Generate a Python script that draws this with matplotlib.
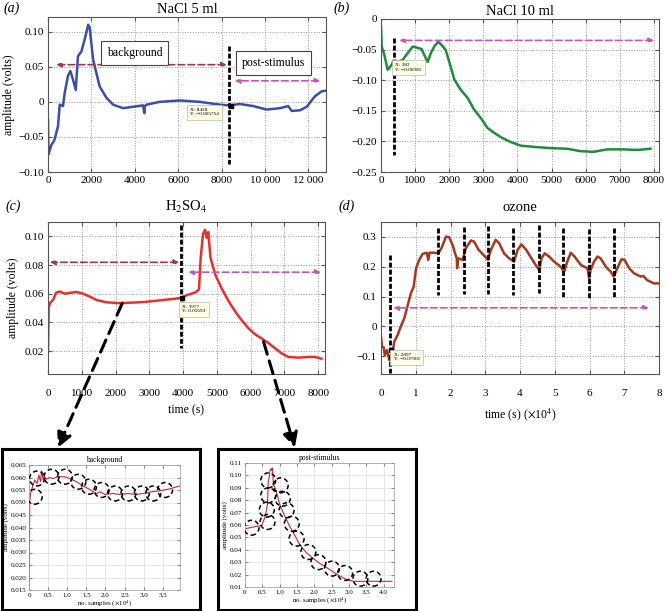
import matplotlib
matplotlib.use("agg")
import matplotlib.pyplot as plt
from matplotlib.patches import ConnectionPatch

plt.rcParams['font.family'] = ['Liberation Serif', 'DejaVu Serif']
plt.rcParams['mathtext.fontset'] = 'stix'

# (a) NaCl 5 ml
nacl5_t = [0, 20, 150, 300, 460, 540, 690, 770, 920, 1030, 1150, 1280, 1380, 1540, 1690,
           1850, 1920, 2080, 2230, 2380, 2690, 3000, 3460, 3920, 4380, 4440, 4460, 4540,
           5150, 6080, 7000, 7920, 8380, 8840, 9460, 10070, 10690, 11070, 11230, 11610,
           11920, 12300, 12610, 12810]
nacl5_v = [-0.025, -0.075, -0.062, -0.054, -0.035, -0.004, -0.006, 0.013, 0.037, 0.044,
           0.032, 0.017, 0.065, 0.072, 0.089, 0.110, 0.106, 0.060, 0.041, 0.022, 0.006,
           -0.004, -0.009, -0.007, -0.005, -0.016, -0.006, -0.004, 0.0, 0.002, 0.0, -0.004,
           -0.005, -0.003, -0.006, -0.011, -0.009, -0.006, -0.013, -0.012, -0.007, 0.008,
           0.015, 0.016]

# (b) NaCl 10 ml
nacl10_t = [0, 20, 100, 195, 240, 310, 370, 490, 630, 780, 930, 1070, 1190, 1270, 1370,
            1460, 1560, 1680, 1800, 1900, 2000, 2150, 2340, 2540, 2730, 2930, 3120, 3320,
            3510, 3800, 4100, 4490, 4980, 5460, 5850, 6240, 6630, 7120, 7510, 7900]
nacl10_v = [-0.012, -0.045, -0.059, -0.083, -0.080, -0.075, -0.070, -0.070, -0.067,
            -0.056, -0.045, -0.047, -0.049, -0.059, -0.070, -0.056, -0.045, -0.037, -0.044,
            -0.051, -0.070, -0.099, -0.116, -0.129, -0.148, -0.162, -0.178, -0.186, -0.193,
            -0.201, -0.207, -0.209, -0.211, -0.212, -0.216, -0.217, -0.213, -0.213, -0.214,
            -0.212]

# (c) H2SO4
h2so4_t = [0, 20, 60, 160, 235, 350, 500, 650, 840, 1040, 1235, 1430, 1725, 2120, 2510,
           2900, 3290, 3685, 3930, 4080, 4370, 4470, 4520, 4590, 4650, 4695, 4745, 4810,
           4960, 5155, 5350, 5550, 5740, 5940, 6135, 6330, 6525, 6720, 6920, 7115, 7410,
           7700, 7900, 8095]
h2so4_v = [0.0195, 0.050, 0.0535, 0.056, 0.0606, 0.0615, 0.060, 0.0606, 0.0612, 0.060,
           0.058, 0.0557, 0.054, 0.0534, 0.0538, 0.0543, 0.0553, 0.0563, 0.057, 0.0587,
           0.061, 0.063, 0.085, 0.1017, 0.1046, 0.099, 0.103, 0.085, 0.0727, 0.063, 0.0546,
           0.0473, 0.0413, 0.0357, 0.0316, 0.0287, 0.0256, 0.022, 0.0183, 0.0159, 0.0154,
           0.0159, 0.0159, 0.0147]

# (d) ozone, time in 1e4 s
ozone_t = [0, 0.03, 0.08, 0.11, 0.17, 0.24, 0.31, 0.38, 0.48, 0.57, 0.67, 0.77, 0.86, 0.94,
           1.01, 1.10, 1.20, 1.32, 1.36, 1.40, 1.53, 1.65, 1.74, 1.87, 1.96, 2.06, 2.13,
           2.18, 2.19, 2.22, 2.35, 2.44, 2.59, 2.68, 2.80, 2.92, 3.08, 3.16, 3.30, 3.40,
           3.54, 3.69, 3.83, 3.93, 4.04, 4.17, 4.33, 4.45, 4.55, 4.62, 4.71, 4.84, 4.98,
           5.17, 5.27, 5.36, 5.46, 5.57, 5.75, 5.94, 5.99, 6.03, 6.13, 6.23, 6.32, 6.47,
           6.61, 6.70, 6.80, 6.92, 7.01, 7.14, 7.28, 7.47, 7.55, 7.66, 7.85, 8.0]
ozone_v = [-0.035, -0.069, -0.071, -0.097, -0.080, -0.113, -0.108, -0.052, -0.029, 0.0,
           0.027, 0.071, 0.111, 0.133, 0.195, 0.223, 0.243, 0.247, 0.223, 0.247, 0.247,
           0.245, 0.262, 0.301, 0.299, 0.273, 0.245, 0.228, 0.195, 0.228, 0.223, 0.262,
           0.288, 0.284, 0.258, 0.243, 0.223, 0.256, 0.290, 0.279, 0.245, 0.228, 0.217,
           0.256, 0.275, 0.258, 0.228, 0.206, 0.189, 0.228, 0.245, 0.234, 0.217, 0.200,
           0.183, 0.217, 0.247, 0.234, 0.206, 0.195, 0.161, 0.189, 0.217, 0.234, 0.228,
           0.200, 0.183, 0.167, 0.195, 0.225, 0.223, 0.195, 0.178, 0.167, 0.169, 0.155,
           0.144, 0.144]
ozone_marks = [0.27, 1.65, 2.39, 3.07, 3.80, 4.55, 5.25, 5.99, 6.70]
ozone_marks_top = [0.24, 0.33, 0.332, 0.337, 0.33, 0.34, 0.33, 0.326, 0.33]
ozone_marks_bot = [-0.156, 0.105, 0.108, 0.108, 0.105, 0.113, 0.10, 0.094, 0.10]

# insets (x in 1e4 samples)
bg_x = [0, 0.02, 0.04, 0.09, 0.15, 0.21, 0.26, 0.30, 0.33, 0.37, 0.41, 0.45, 0.54, 0.63,
        0.76, 0.94, 1.07, 1.24, 1.42, 1.59, 1.77, 1.85, 1.99, 2.20, 2.38, 2.60, 2.77,
        2.99, 3.21, 3.43, 3.69, 3.94]
bg_y = [0.016, 0.0503, 0.0536, 0.0563, 0.059, 0.0576, 0.061, 0.0583, 0.0627, 0.059,
        0.0603, 0.0593, 0.060, 0.0596, 0.0603, 0.0603, 0.0596, 0.0583, 0.0566, 0.0552,
        0.0536, 0.0543, 0.0532, 0.0536, 0.0532, 0.0536, 0.0532, 0.0536, 0.0543, 0.0547,
        0.0555, 0.0566]
bg_cx = [0.15, 0.21, 0.59, 0.94, 1.29, 1.57, 1.90, 2.25, 2.60, 2.95, 3.25, 3.56]
bg_cy = [0.0523, 0.0596, 0.0603, 0.0603, 0.0583, 0.0563, 0.055, 0.0536, 0.0536, 0.0536,
         0.0536, 0.055]

ps_x = [0, 0.14, 0.34, 0.48, 0.58, 0.65, 0.67, 0.70, 0.72, 0.75, 0.77, 0.79, 0.82, 0.92,
        1.01, 1.16, 1.30, 1.45, 1.59, 1.78, 1.98, 2.17, 2.36, 2.55, 2.75, 2.94, 3.13,
        3.42, 3.71, 4.0, 4.24]
ps_y = [0.057, 0.0578, 0.0589, 0.0595, 0.0665, 0.0772, 0.0947, 0.0987, 0.104, 0.1054,
        0.104, 0.106, 0.0933, 0.0853, 0.0759, 0.0665, 0.0584, 0.0509, 0.0436, 0.0374,
        0.0328, 0.0288, 0.0256, 0.0221, 0.0186, 0.0159, 0.0146, 0.0146, 0.0146, 0.0146,
        0.0146]
ps_cx = [0.19, 0.65, 0.63, 0.67, 0.67, 1.03, 1.09, 1.20, 1.35, 1.49, 1.83, 2.12, 2.51,
         2.89, 3.33, 3.71]
ps_cy = [0.0578, 0.0624, 0.0724, 0.0839, 0.096, 0.092, 0.0812, 0.0718, 0.061, 0.049,
         0.0382, 0.030, 0.0248, 0.0213, 0.0167, 0.0167]

W, H = 668, 611
fig = plt.figure(figsize=(W / 100, H / 100), dpi=100)


def rect(l, t, r, b):
    return [l / W, 1 - b / H, (r - l) / W, (b - t) / H]


def style(ax, pad=3):
    ax.grid(True, ls=':', color='#999999', lw=0.7)
    ax.tick_params(direction='in', top=True, right=True, labelsize=8, length=3,
                   color='#555555', pad=pad)
    for s in ax.spines.values():
        s.set_color('#555555')
        s.set_linewidth(0.8)


def tip(ax, x, y, tx, ty, txt):
    ax.plot([x], [y], 's', color='k', ms=3, zorder=6)
    ax.text(tx, ty, txt, fontsize=3.8, ha='left', va='top', zorder=7,
            bbox=dict(boxstyle='square,pad=0.6', fc='#fffde6', ec='#bbbbaa', lw=0.5))


def dbl_arrow(ax, x0, x1, y, color):
    ax.annotate('', xy=(x0, y), xytext=(x1, y),
                arrowprops=dict(arrowstyle='<|-|>', color=color, lw=1.2, ls=(0, (4, 2)),
                                mutation_scale=7, shrinkA=0, shrinkB=0))


darkred = '#a5344f'
pink = '#c955b8'
blk_dash = (0, (1.8, 0.75))
blk_lw = 2.0

# ---- (a)
ax_a = fig.add_axes(rect(48, 17, 326, 172))
ax_a.plot(nacl5_t, nacl5_v, color='#3a4ea6', lw=1.8)
ax_a.set_xlim(0, 12810)
ax_a.set_ylim(-0.1, 0.121)
ax_a.set_xticks(range(0, 12001, 2000))
ax_a.set_xticklabels(['0', '2000', '4000', '6000', '8000', '10 000', '12 000'])
ax_a.set_yticks([-0.1, -0.05, 0, 0.05, 0.1])
ax_a.set_yticklabels(['−0.10', '−0.05', '0', '0.05', '0.10'])
style(ax_a)
ax_a.set_ylabel('amplitude (volts)', fontsize=8.5, labelpad=2)
ax_a.set_title('NaCl 5 ml', fontsize=10.5, pad=3)
ax_a.plot([8350, 8350], [0.080, -0.088], color='k', lw=blk_lw, ls=blk_dash, zorder=5)
dbl_arrow(ax_a, 385, 8230, 0.053, darkred)
dbl_arrow(ax_a, 8610, 12540, 0.030, pink)
ax_a.text(4000, 0.070, 'background', fontsize=8.5, ha='center', va='center',
          bbox=dict(boxstyle='square,pad=0.5', fc='white', ec='#444444', lw=0.8))
ax_a.text(10370, 0.055, 'post-stimulus', fontsize=8.5, ha='center', va='center',
          bbox=dict(boxstyle='square,pad=0.5', fc='white', ec='#444444', lw=0.8))
tip(ax_a, 8428, -0.005754, 6540, -0.0085, 'X: 8428\nY: −0.005754')

# ---- (b)
ax_b = fig.add_axes(rect(381, 19, 659, 172))
ax_b.plot(nacl10_t, nacl10_v, color='#218a3c', lw=1.8)
ax_b.set_xlim(0, 8150)
ax_b.set_ylim(-0.25, 0)
ax_b.set_xticks(range(0, 8001, 1000))
ax_b.set_yticks([-0.25, -0.2, -0.15, -0.1, -0.05, 0])
ax_b.set_yticklabels(['−0.25', '−0.20', '−0.15', '−0.10', '−0.05', '0'])
style(ax_b)
ax_b.set_title('NaCl 10 ml', fontsize=10.5, pad=3)
ax_b.plot([370, 370], [-0.031, -0.222], color='k', lw=blk_lw, ls=blk_dash, zorder=5)
dbl_arrow(ax_b, 540, 8000, -0.035, pink)
tip(ax_b, 382, -0.06985, 420, -0.072, 'X: 382\nY: −0.06985')

# ---- (c)
ax_c = fig.add_axes(rect(48, 222, 325, 374))
ax_c.plot(h2so4_t, h2so4_v, color='#e8302a', lw=1.8)
ax_c.set_xlim(0, 8200)
ax_c.set_ylim(0.004, 0.11)
ax_c.set_xticks(range(0, 8001, 1000))
ax_c.set_yticks([0.02, 0.04, 0.06, 0.08, 0.10])
ax_c.set_yticklabels(['0.02', '0.04', '0.06', '0.08', '0.10'])
style(ax_c)
ax_c.tick_params(axis='x', pad=11)
ax_c.set_xlabel('time (s)', fontsize=8.5, labelpad=4)
ax_c.set_ylabel('amplitude (volts)', fontsize=8.5, labelpad=4)
ax_c.set_title('H$_2$SO$_4$', fontsize=10.5, pad=8)
ax_c.plot([3930, 3930], [0.1077, 0.022], color='k', lw=blk_lw, ls=blk_dash, zorder=5)
dbl_arrow(ax_c, 60, 3880, 0.0819, darkred)
dbl_arrow(ax_c, 4155, 8075, 0.075, pink)
tip(ax_c, 3977, 0.05693, 3980, 0.0522, 'X: 3977\nY: 0.05693')

# ---- (d)
ax_d = fig.add_axes(rect(381, 222, 659, 374))
ax_d.plot(ozone_t, ozone_v, color='#a3391f', lw=1.8)
ax_d.set_xlim(0, 8)
ax_d.set_ylim(-0.16, 0.35)
ax_d.set_xticks(range(0, 9))
ax_d.set_yticks([-0.1, 0, 0.1, 0.2, 0.3])
ax_d.set_yticklabels(['−0.1', '0', '0.1', '0.2', '0.3'])
style(ax_d)
ax_d.tick_params(axis='x', pad=11)
ax_d.set_xlabel(r'time (s) ($\times$10$^4$)', fontsize=8.5, labelpad=6)
ax_d.set_title('ozone', fontsize=10.5, pad=8)
for xm, yt, yb in zip(ozone_marks, ozone_marks_top, ozone_marks_bot):
    ax_d.plot([xm, xm], [yt, yb], color='k', lw=blk_lw, ls=blk_dash, zorder=5)
dbl_arrow(ax_d, 0.36, 7.71, 0.062, pink)
tip(ax_d, 0.2897, -0.07901, 0.36, -0.089, 'X: 2897\nY: −0.07901')

# panel letters
for (px, py, s) in [(12, 8, '(a)'), (342, 8, '(b)'), (13, 206, '(c)'), (347, 206, '(d)')]:
    fig.text(px / W, 1 - py / H, s, fontsize=10, style='italic', ha='center', va='center')


# ---- insets
def inset(box_r, ax_r, x, y, cx, cy, title, xt, xtl, yt, ytl, xlim, ylim):
    box = fig.add_axes(rect(*box_r))
    box.set_xticks([])
    box.set_yticks([])
    for s in box.spines.values():
        s.set_linewidth(2.2)
        s.set_color('k')
    ax = fig.add_axes(rect(*ax_r))
    ax.plot(x, y, color='#c8283c', lw=0.8)
    ax.scatter(cx, cy, s=115, facecolors='none', edgecolors='k', linestyles=(0, (3, 2)),
               linewidths=1.1, zorder=4)
    ax.set_xlim(*xlim)
    ax.set_ylim(*ylim)
    ax.set_xticks(xt)
    ax.set_xticklabels(xtl)
    ax.set_yticks(yt)
    ax.set_yticklabels(ytl)
    ax.grid(True, color='#dddddd', lw=0.5)
    ax.tick_params(direction='in', top=True, right=True, labelsize=5, length=2,
                   color='#888888', pad=2)
    for s in ax.spines.values():
        s.set_color('#999999')
        s.set_linewidth(0.5)
    ax.set_title(title, fontsize=5.5, pad=2)
    ax.set_xlabel(r'no. samples ($\times$10$^4$)', fontsize=5, labelpad=1)
    ax.set_ylabel('amplitude (volts)', fontsize=5, labelpad=1)
    return box, ax


bg_yt = [0.015 + 0.005 * i for i in range(11)]
box_l, ax_l = inset((2, 449, 200, 610), (29, 465, 180, 590), bg_x, bg_y, bg_cx, bg_cy,
                    'background',
                    [0, 0.5, 1, 1.5, 2, 2.5, 3, 3.5],
                    ['0', '0.5', '1.0', '1.5', '2.0', '2.5', '3.0', '3.5'],
                    bg_yt, ['%.3f' % v for v in bg_yt], (0, 3.95), (0.015, 0.065))

ps_yt = [0.01 * i for i in range(1, 12)]
box_r, ax_r = inset((218, 449, 416, 610), (245, 463, 394, 587), ps_x, ps_y, ps_cx, ps_cy,
                    'post-stimulus',
                    [0, 0.5, 1, 1.5, 2, 2.5, 3, 3.5, 4],
                    ['0', '0.5', '1.0', '1.5', '2.0', '2.5', '3.0', '3.5', '4.0'],
                    ps_yt, ['%.2f' % v for v in ps_yt], (0, 4.3), (0.01, 0.11))

# big dashed arrows from (c) to the insets
for (xa, ya, box, fx) in [(2200, 0.0534, box_l, 0.28), (6380, 0.0266, box_r, 0.39)]:
    con = ConnectionPatch(xyA=(xa, ya), coordsA=ax_c.transData, xyB=(fx, 1.0),
                          coordsB=box.transAxes, arrowstyle='-|>', color='k', lw=2.2,
                          ls=(0, (4.3, 2.3)), mutation_scale=22, shrinkA=0, shrinkB=1)
    fig.add_artist(con)

fig.savefig('out.png', dpi=100)
plt.close()
